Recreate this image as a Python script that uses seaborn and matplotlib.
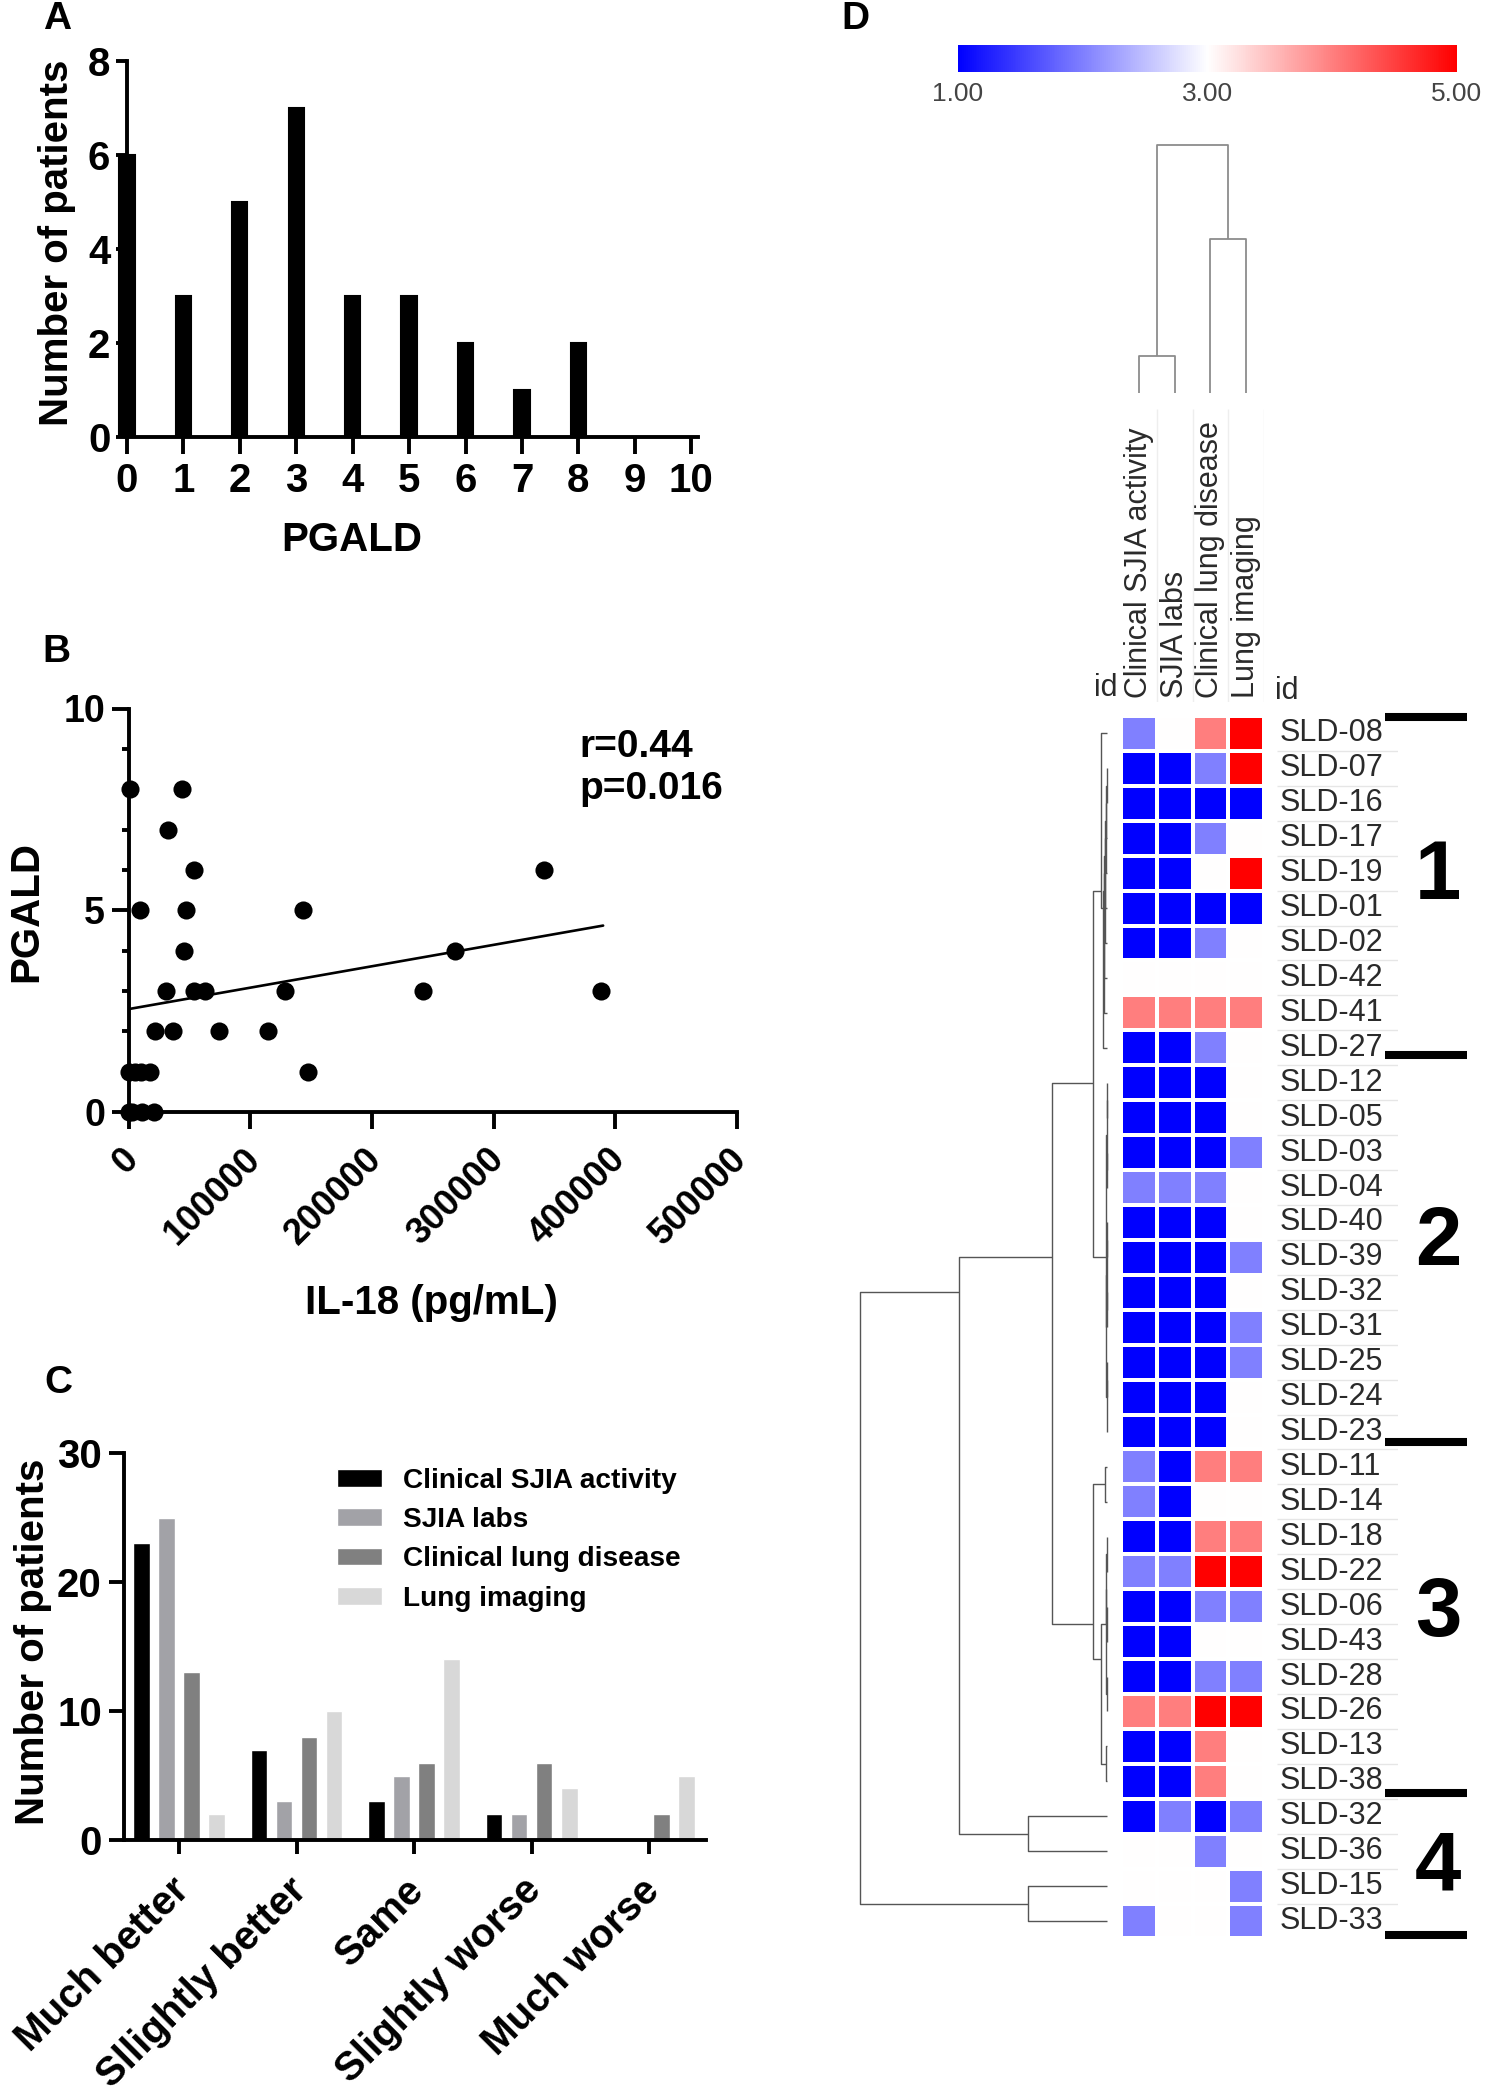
import numpy as np
import pandas as pd
import matplotlib
matplotlib.use("Agg")
import matplotlib.pyplot as plt
import seaborn as sns
from matplotlib import font_manager
from matplotlib.colors import LinearSegmentedColormap
from matplotlib.transforms import ScaledTranslation

# ---------------- data ----------------
# Panel A: distribution of PGALD
pgald_levels = [0, 1, 2, 3, 4, 5, 6, 7, 8, 9, 10]
pgald_counts = [6, 3, 5, 7, 3, 3, 2, 1, 2, 0, 0]

# Panel B: IL-18 vs PGALD
il18_values = [1200, 9200, 43800, 32700, 53800, 47000, 45800, 31000, 53800, 62500,
               21900, 36700, 74500, 114700, 128700, 143400, 147400, 242200, 268100,
               341400, 388400, 0, 5000, 10000, 18000, 0, 3000, 11000, 21000]
pgald_values = [8, 5, 8, 7, 6, 5, 4, 3, 3, 3,
                2, 2, 2, 2, 3, 5, 1, 3, 4,
                6, 3, 1, 1, 1, 1, 0, 0, 0, 0]
fit_x = [0, 390000]
fit_y = [2.55, 4.62]
il18_ticks = [0, 100000, 200000, 300000, 400000, 500000]
stats_text = "r=0.44\np=0.016"

# Panel C: change ratings
response_levels = ["Much better", "Sllightly better", "Same", "Slightly worse", "Much worse"]
domains = ["Clinical SJIA activity", "SJIA labs", "Clinical lung disease", "Lung imaging"]
clinical_sjia = [23, 7, 3, 2, 0]
sjia_labs = [25, 3, 5, 2, 0]
clinical_lung = [13, 8, 6, 6, 2]
lung_imaging = [2, 10, 14, 4, 5]
domain_colors = ["#000000", "#a2a2a7", "#808080", "#d8d8d8"]

# Panel D: clustered heatmap
patient_ids = ["SLD-08", "SLD-07", "SLD-16", "SLD-17", "SLD-19", "SLD-01", "SLD-02", "SLD-42",
               "SLD-41", "SLD-27", "SLD-12", "SLD-05", "SLD-03", "SLD-04", "SLD-40", "SLD-39",
               "SLD-32", "SLD-31", "SLD-25", "SLD-24", "SLD-23", "SLD-11", "SLD-14", "SLD-18",
               "SLD-22", "SLD-06", "SLD-43", "SLD-28", "SLD-26", "SLD-13", "SLD-38", "SLD-32",
               "SLD-36", "SLD-15", "SLD-33"]
heat_columns = ["Clinical SJIA activity", "SJIA labs", "Clinical lung disease", "Lung imaging"]
score_sjia_activity = [2, 1, 1, 1, 1, 1, 1, 3, 4, 1,
                       1, 1, 1, 2, 1, 1, 1, 1, 1, 1, 1,
                       2, 2, 1, 2, 1, 1, 1, 4, 1, 1,
                       1, 3, 3, 2]
score_sjia_labs = [3, 1, 1, 1, 1, 1, 1, 3, 4, 1,
                   1, 1, 1, 2, 1, 1, 1, 1, 1, 1, 1,
                   1, 1, 1, 2, 1, 1, 1, 4, 1, 1,
                   2, 3, 3, 3]
score_lung_disease = [4, 2, 1, 2, 3, 1, 2, 3, 4, 2,
                      1, 1, 1, 2, 1, 1, 1, 1, 1, 1, 1,
                      4, 3, 4, 5, 2, 3, 2, 5, 4, 4,
                      1, 2, 3, 3]
score_lung_imaging = [5, 5, 1, 3, 5, 1, 3, 3, 4, 3,
                      3, 3, 2, 3, 3, 2, 3, 2, 2, 3, 3,
                      4, 3, 4, 5, 2, 3, 2, 5, 3, 3,
                      2, 3, 2, 2]
colorbar_ticks = [1, 3, 5]
colorbar_labels = ["1.00", "3.00", "5.00"]

# row dendrogram merges (scipy-like: node n+k created by merge k)
row_merge_left = [1, 35, 36, 37, 38, 39, 40, 41, 0,
                  10, 12, 14, 16, 18, 48, 44, 46, 51, 50,
                  43,
                  21, 23, 25, 27, 56, 59, 29, 60, 55,
                  54, 31, 64, 33, 66]
row_merge_right = [2, 3, 4, 5, 6, 7, 8, 9, 42,
                   11, 13, 15, 17, 19, 20, 45, 47, 49, 52,
                   53,
                   22, 24, 26, 28, 57, 58, 30, 61, 62,
                   63, 32, 65, 34, 67]
row_merge_height = [0.2, 0.4, 0.6, 0.8, 1.0, 1.2, 1.4, 1.6, 2.4,
                    0.1, 0.1, 0.1, 0.1, 0.1, 0.2, 0.2, 0.2, 0.3, 0.4,
                    5.7,
                    0.7, 0.2, 0.2, 0.2, 0.3, 0.4, 0.4, 2.4, 5.7,
                    22.3, 32.0, 59.9, 32.0, 100.0]
# column dendrogram merges
col_merge_left = [0, 2, 4]
col_merge_right = [1, 3, 5]
col_merge_height = [14.7, 62.0, 100.0]

cluster_sep_rows = [0.03, 9.7, 20.78, 30.83, 34.9]
cluster_label_rows = [4.6, 15.1, 25.7, 33.0]
cluster_names = ["1", "2", "3", "4"]

# ---------------- style ----------------
sns.set_theme(style="ticks")
plt.rcParams["font.family"] = ["Liberation Sans", "DejaVu Sans"]
plt.rcParams["text.color"] = "black"
plt.rcParams["axes.labelcolor"] = "black"
plt.rcParams["xtick.color"] = "black"
plt.rcParams["ytick.color"] = "black"
_names = {f.name for f in font_manager.fontManager.ttflist}
narrow_family = ["Liberation Sans Narrow", "Liberation Sans"] if "Liberation Sans Narrow" in _names \
    else ["Liberation Sans", "DejaVu Sans"]

W, H = 1486, 2100
fig = plt.figure(figsize=(W / 100, H / 100), dpi=100)
fig.patch.set_facecolor("white")


def px_axes(rect):
    l, t, r, b = rect
    return fig.add_axes([l / W, 1 - b / H, (r - l) / W, (b - t) / H])


def ax_coords(rect, cx, cy):
    l, t, r, b = rect
    return (cx - l) / (r - l), (b - cy) / (b - t)


def style_axes(ax, lw=2.8):
    sns.despine(ax=ax)
    for s in ["left", "bottom"]:
        ax.spines[s].set_linewidth(lw)
        ax.spines[s].set_color("black")
    ax.tick_params(width=lw, direction="out", colors="black")


def center_label(ax, rect, which, text, cx, cy, size):
    if which == "x":
        ax.set_xlabel(text, fontsize=size, fontweight="bold", color="black")
        lab = ax.xaxis.label
        ax.xaxis.set_label_coords(*ax_coords(rect, cx, cy))
    else:
        ax.set_ylabel(text, fontsize=size, fontweight="bold", color="black")
        lab = ax.yaxis.label
        ax.yaxis.set_label_coords(*ax_coords(rect, cx, cy))
    lab.set_ha("center")
    lab.set_va("center")


def shift_labels(ax, dx_px):
    for lbl in ax.get_xticklabels():
        lbl.set_transform(lbl.get_transform() + ScaledTranslation(dx_px / 100, 0, fig.dpi_scale_trans))


def dendrogram_lines(n_leaves, left, right, height):
    members = {i: [i] for i in range(n_leaves)}
    level = {i: 0.0 for i in range(n_leaves)}
    out = []
    for k, (a, b, h) in enumerate(zip(left, right, height)):
        node = n_leaves + k
        members[node] = members[a] + members[b]
        level[node] = h
        pa = np.mean(members[a]) + 0.5
        pb = np.mean(members[b]) + 0.5
        out.append(([level[a], h, h, level[b]], [pa, pa, pb, pb]))
    return out


# panel letters
for letter, (cx, cy) in zip("ABCD", [(57, 19), (56, 652), (58, 1383), (855, 19)]):
    fig.text(cx / W, 1 - cy / H, letter, fontsize=28, fontweight="bold", ha="center",
             va="center", color="black")

# ---------------- Panel A ----------------
rectA = (127, 61, 698, 437)
axA = px_axes(rectA)
sns.barplot(x=pgald_levels, y=pgald_counts, color="black", width=0.27, saturation=1,
            edgecolor="black", linewidth=1.5, ax=axA)
for p in axA.patches:
    p.set_clip_on(False)
axA.set_xlim(0, 10.12)
axA.set_ylim(0, 8)
axA.set_xticks(range(len(pgald_levels)), labels=[str(v) for v in pgald_levels],
               fontsize=29, fontweight="bold", family=narrow_family)
axA.set_yticks([0, 2, 4, 6, 8], labels=["0", "2", "4", "6", "8"],
               fontsize=29, fontweight="bold", family=narrow_family)
style_axes(axA)
axA.tick_params(axis="x", length=12, pad=6)
axA.tick_params(axis="y", length=8, pad=4)
center_label(axA, rectA, "x", "PGALD", 352, 540, 29)
center_label(axA, rectA, "y", "Number of patients", 57, 243, 29)

# ---------------- Panel B ----------------
rectB = (128.5, 708.5, 737, 1112)
axB = px_axes(rectB)
sns.lineplot(x=fit_x, y=fit_y, color="black", linewidth=1.9, ax=axB)
sns.scatterplot(x=il18_values, y=pgald_values, color="black", s=170, linewidth=0,
                ax=axB, clip_on=False, zorder=3)
axB.set_xlim(0, 500000)
axB.set_ylim(0, 10)
axB.set_yticks([0, 5, 10], labels=["0", "5", "10"], fontsize=27, fontweight="bold")
axB.set_yticks(range(0, 11), minor=True)
axB.set_xticks(il18_ticks, labels=[str(v) for v in il18_ticks], fontsize=26, fontweight="bold",
               rotation=45, ha="right", va="center", rotation_mode="anchor")
style_axes(axB)
axB.tick_params(axis="both", which="major", length=12)
axB.tick_params(axis="y", which="major", pad=5)
axB.tick_params(axis="y", which="minor", length=5, width=2.8)
axB.tick_params(axis="x", which="major", pad=18)
shift_labels(axB, 5)
tx, ty = ax_coords(rectB, 579, 768)
axB.text(tx, ty, stats_text, transform=axB.transAxes, fontsize=28, fontweight="bold",
         ha="left", va="center", linespacing=1.2)
center_label(axB, rectB, "x", "IL-18 (pg/mL)", 431, 1303, 29)
center_label(axB, rectB, "y", "PGALD", 26, 911, 29)

# ---------------- Panel C ----------------
rectC = (124, 1453, 705.5, 1840)
axC = px_axes(rectC)
dfC = pd.DataFrame({
    "response": response_levels * len(domains),
    "domain": np.repeat(domains, len(response_levels)),
    "count": clinical_sjia + sjia_labs + clinical_lung + lung_imaging,
})
sns.barplot(data=dfC, x="response", y="count", hue="domain", order=response_levels,
            hue_order=domains, palette=domain_colors, width=0.855, gap=0.34, saturation=1,
            ax=axC)
axC.set_xlim(-0.468, 4.48)
axC.set_ylim(0, 30)
axC.set_yticks([0, 10, 20, 30], labels=["0", "10", "20", "30"], fontsize=29, fontweight="bold")
axC.set_xticks(range(len(response_levels)), labels=response_levels, fontsize=29,
               fontweight="bold", rotation=45, ha="right", va="center", rotation_mode="anchor")
style_axes(axC)
axC.tick_params(axis="x", length=10, pad=22)
axC.tick_params(axis="y", length=11, pad=5)
shift_labels(axC, 4)
handles, labels = axC.get_legend_handles_labels()
axC.legend(handles, labels, loc="upper left", bbox_to_anchor=(337 / W, 1 - 1468 / H),
           bbox_transform=fig.transFigure, frameon=False,
           prop={"size": 20.2, "weight": "bold"}, handlelength=1.6, handleheight=0.6,
           handletextpad=0.75, labelspacing=0.47, borderpad=0, borderaxespad=0)
axC.set_xlabel("")
center_label(axC, rectC, "y", "Number of patients", 33, 1642, 29)

# ---------------- Panel D ----------------
heat = np.column_stack([score_sjia_activity, score_sjia_labs, score_lung_disease, score_lung_imaging])
n_rows, n_cols = heat.shape
cmap = LinearSegmentedColormap.from_list("bwr_pure", ["#0000ff", "#ffffff", "#ff0000"])

rectH = (1121, 716, 1264, 1938.5)
axH = px_axes(rectH)
rectCB = (958, 45, 1457, 72)
cax = px_axes(rectCB)
sns.heatmap(heat, cmap=cmap, vmin=1, vmax=5, linewidths=2.6, linecolor="white",
            xticklabels=heat_columns, yticklabels=patient_ids, ax=axH, cbar_ax=cax,
            cbar_kws={"orientation": "horizontal", "ticks": colorbar_ticks})
axH.yaxis.tick_right()
axH.set_yticklabels(patient_ids, rotation=0, fontsize=22, color="#2a2a2a", va="center")
axH.xaxis.tick_top()
axH.set_xticklabels(heat_columns, rotation=90, fontsize=22, color="#2a2a2a",
                    va="bottom", ha="center")
axH.tick_params(axis="y", length=0, pad=11)
axH.tick_params(axis="x", length=0, pad=13)
axH.set_xlabel("")
axH.set_ylabel("")

cbar = axH.collections[0].colorbar
cbar.set_ticks(colorbar_ticks)
cbar.set_ticklabels(colorbar_labels)
cbar.outline.set_visible(False)
cax.tick_params(length=0, labelsize=19, pad=7, colors="#444444")

# column dendrogram
rectCD = (1121, 145, 1264, 392.5)
axCD = px_axes(rectCD)
for xs, ys in dendrogram_lines(n_cols, col_merge_left, col_merge_right, col_merge_height):
    axCD.plot(ys, xs, color="#8c8c8c", linewidth=1.3, clip_on=False, solid_capstyle="butt")
axCD.set_xlim(0, n_cols)
axCD.set_ylim(0, 100)
axCD.axis("off")

# row dendrogram
rectRD = (860, 716, 1107, 1938.5)
axRD = px_axes(rectRD)
for xs, ys in dendrogram_lines(n_rows, row_merge_left, row_merge_right, row_merge_height):
    axRD.plot(xs, ys, color="#555555", linewidth=1.0, clip_on=False, solid_capstyle="butt")
axRD.set_xlim(100, 0)
axRD.set_ylim(n_rows, 0)
axRD.axis("off")

# faint grid in the label areas
rectRG = (1277, 716, 1398, 1938.5)
axRG = px_axes(rectRG)
axRG.hlines(np.arange(1, n_rows), 0, 1, color="#e6e6e6", linewidth=1)
axRG.set_xlim(0, 1)
axRG.set_ylim(n_rows, 0)
axRG.axis("off")

rectCG = (1121, 409, 1264, 702)
axCG = px_axes(rectCG)
axCG.vlines(np.arange(1, n_cols + 1), 0, 1, color="#eeeeee", linewidth=1)
axCG.set_xlim(0, n_cols)
axCG.set_ylim(0, 1)
axCG.axis("off")

# cluster separators and numbers
rectS = (1385, 716, 1467, 1938.5)
axS = px_axes(rectS)
axS.hlines(cluster_sep_rows, 0, 1, color="black", linewidth=5.8, clip_on=False)
for name, r in zip(cluster_names, cluster_label_rows):
    axS.text(0.646, r, name, fontsize=60, fontweight="bold", ha="center", va="center",
             color="black")
axS.set_xlim(0, 1)
axS.set_ylim(n_rows, 0)
axS.axis("off")

# "id" headers
fig.text(1106 / W, 1 - 688 / H, "id", fontsize=22, color="#2a2a2a", ha="center", va="center")
fig.text(1287 / W, 1 - 691 / H, "id", fontsize=22, color="#2a2a2a", ha="center", va="center")

fig.savefig("out.png", dpi=100, facecolor="white")
